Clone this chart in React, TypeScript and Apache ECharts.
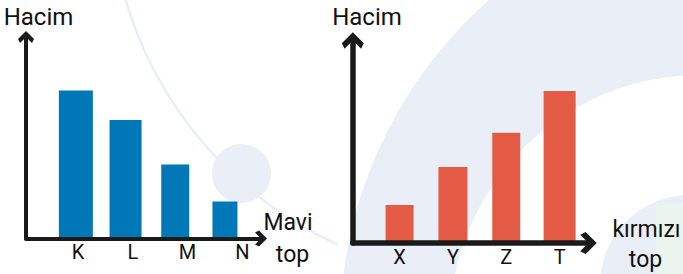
import { useEffect, useRef } from "react";
import * as echarts from "echarts";

// ---- data ----
const LEFT_CATEGORIES = ["K", "L", "M", "N"];
const LEFT_VALUES = [4, 3.2, 2, 1];
const RIGHT_CATEGORIES = ["X", "Y", "Z", "T"];
const RIGHT_VALUES = [1, 2, 2.9, 4];
const Y_TITLE = "Hacim";
const LEFT_X_TITLE = ["Mavi", "top"];
const RIGHT_X_TITLE = ["kırmızı", "top"];

// ---- styles / sizes ----
const LEFT_BAR_WIDTHS = [34, 32, 28, 25];
const RIGHT_BAR_WIDTHS = [28, 29, 28, 32];
const BLUE = "#0077b6";
const RED = "#e35b45";
const INK = "#1a1a1a";
const TEXT = "#111111";
const BG_BLUE = "#eaeef7";
const BG_GREEN = "#e9f5ee";
const FONT = "Roboto";

// up-pointing chevron (filled), box 20x15
const CHEVRON = "path://M10,0 L20,10 L17.5,15 L10,7.5 L2.5,15 L0,10 Z";

const W = 683;
const H = 274;

function frameAxis(gridIndex: number, lineWidth: number, size: [number, number]) {
  return {
    gridIndex,
    type: "value" as const,
    min: 0,
    max: 1,
    z: 6,
    axisLine: {
      show: true,
      onZero: false,
      lineStyle: { color: INK, width: lineWidth },
      symbol: ["none", CHEVRON],
      symbolSize: size,
      symbolOffset: [0, -size[1] / 6],
    },
    axisTick: { show: false },
    axisLabel: { show: false },
    splitLine: { show: false },
  };
}

function hiddenValueAxis(gridIndex: number, max?: number) {
  return {
    gridIndex,
    type: "value" as const,
    min: 0,
    max,
    show: false,
    splitLine: { show: false },
  };
}

function categoryAxis(gridIndex: number, data: string[], showLabels: boolean, margin: number) {
  return {
    gridIndex,
    type: "category" as const,
    data,
    axisLine: { show: false },
    axisTick: { show: false },
    splitLine: { show: false },
    axisLabel: {
      show: showLabels,
      margin,
      fontSize: 20,
      fontFamily: FONT,
      color: TEXT,
    },
  };
}

function barSeries(
  xAxisIndex: number,
  yAxisIndex: number,
  values: number[],
  widths: number[],
  color: string
) {
  return {
    type: "custom" as const,
    xAxisIndex,
    yAxisIndex,
    data: values.map((v, i) => [i, v]),
    encode: { x: 0, y: 1 },
    renderItem: (params: any, api: any) => {
      const idx = api.value(0);
      const top = api.coord([idx, api.value(1)]);
      const base = api.coord([idx, 0]);
      const w = widths[params.dataIndex];
      return {
        type: "rect",
        shape: { x: top[0] - w / 2, y: top[1], width: w, height: base[1] - top[1] },
        style: { fill: color },
      };
    },
  };
}

function label(text: string, x: number, baseline: number, size: number) {
  return {
    type: "text",
    z: 100,
    x,
    y: baseline - 0.342 * size,
    style: {
      text,
      fontSize: size,
      fontFamily: FONT,
      fill: TEXT,
      align: "center",
      verticalAlign: "middle",
    },
  };
}

export default function App() {
  const ref = useRef<HTMLDivElement>(null);

  useEffect(() => {
    if (!ref.current) return;
    const chart = echarts.init(ref.current, undefined, { renderer: "svg" });

    const option = {
      animation: false,
      backgroundColor: "#ffffff",
      grid: [
        // 0 left frame
        { left: 26, top: 35, right: W - 263, bottom: H - 238.5 },
        // 1 left bars
        { left: 51, top: 35, width: 198.8, bottom: H - 238.5 },
        // 2 left labels
        { left: 50.6, top: 35, width: 219.2, bottom: H - 238.5 },
        // 3 right frame
        { left: 352.8, top: 37.7, right: W - 591.3, bottom: H - 243 },
        // 4 right bars + labels
        { left: 372.9, top: 37.7, width: 213.4, bottom: H - 243 },
      ],
      xAxis: [
        frameAxis(0, 4, [16, 12]),
        categoryAxis(1, LEFT_CATEGORIES, false, 0),
        categoryAxis(2, LEFT_CATEGORIES, true, 3),
        frameAxis(3, 5.5, [22, 17]),
        categoryAxis(4, RIGHT_CATEGORIES, true, 4),
      ],
      yAxis: [
        frameAxis(0, 4, [16, 12]),
        hiddenValueAxis(1, 5.5),
        hiddenValueAxis(2, 1),
        frameAxis(3, 5.5, [22, 17]),
        hiddenValueAxis(4, 5.4),
      ],
      series: [
        barSeries(1, 1, LEFT_VALUES, LEFT_BAR_WIDTHS, BLUE),
        barSeries(4, 4, RIGHT_VALUES, RIGHT_BAR_WIDTHS, RED),
      ],
      graphic: [
        // faint watermark background
        { type: "circle", z: -10, shape: { cx: 780, cy: 330, r: 440 }, style: { fill: BG_BLUE } },
        { type: "circle", z: -9, shape: { cx: 700, cy: 325, r: 250 }, style: { fill: "#ffffff" } },
        { type: "circle", z: -8, shape: { cx: 690, cy: 285, r: 90 }, style: { fill: BG_BLUE } },
        { type: "rect", z: -7, shape: { x: 656, y: 203, width: 27, height: 71 }, style: { fill: BG_GREEN } },
        { type: "circle", z: -8, shape: { cx: 241.5, cy: 173.5, r: 29.5 }, style: { fill: BG_BLUE } },
        {
          type: "arc",
          z: -8,
          shape: { cx: 500, cy: -110, r: 390, startAngle: 2.0, endAngle: 2.95 },
          style: { stroke: "#e9eef7", lineWidth: 2.5, fill: "none" },
        },
        // texts
        label(Y_TITLE, 38.5, 25, 24),
        label(Y_TITLE, 367, 25, 24),
        label(LEFT_X_TITLE[0], 288, 230, 23),
        label(LEFT_X_TITLE[1], 292.5, 262, 23),
        label(RIGHT_X_TITLE[0], 646.5, 237, 23),
        label(RIGHT_X_TITLE[1], 645.5, 267, 23),
      ],
    };

    chart.setOption(option as any);
    return () => chart.dispose();
  }, []);

  return (
    <div
      ref={ref}
      style={{ position: "fixed", left: 0, top: 0, width: W, height: H }}
    />
  );
}
